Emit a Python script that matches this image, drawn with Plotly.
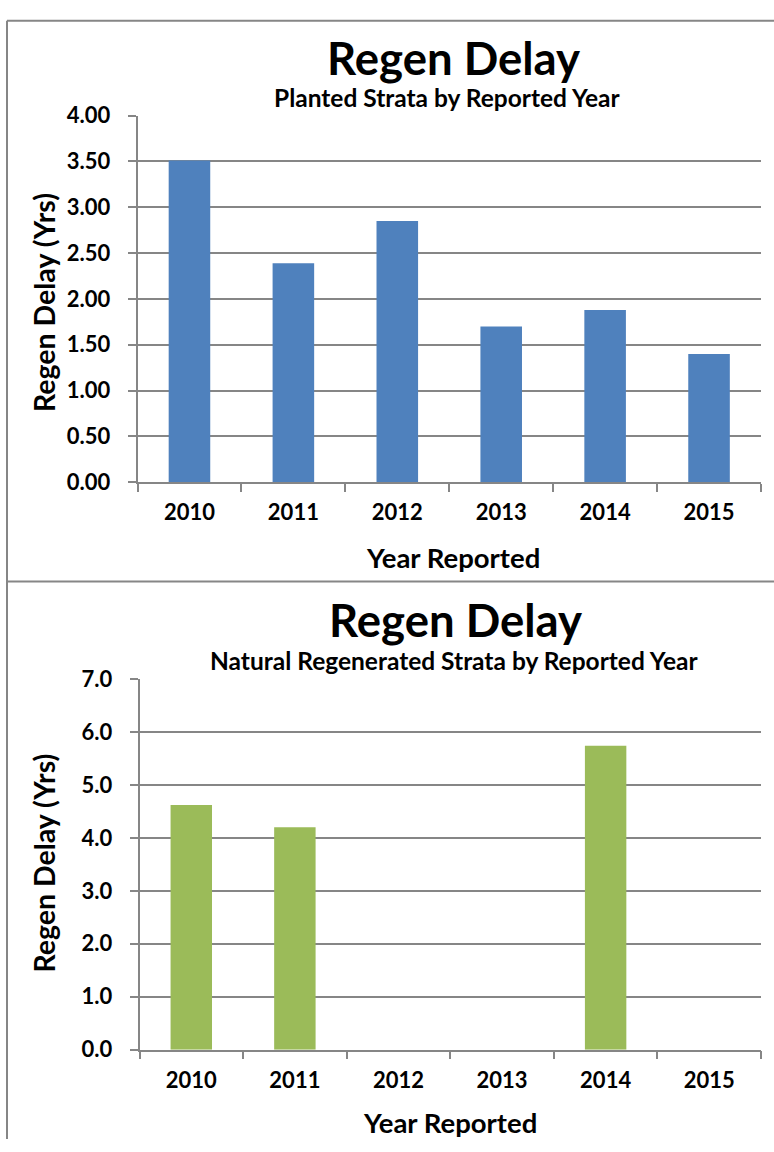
import plotly.graph_objects as go

years = ["2010", "2011", "2012", "2013", "2014", "2015"]
planted = [3.51, 2.39, 2.85, 1.70, 1.88, 1.40]
natural = [4.62, 4.20, 0, 0, 5.74, 0]

W, H = 774, 1152
GRAY = "#868686"
FONT = "Lato"


def px(x):
    return x / W


def py(y):
    return 1 - y / H


fig = go.Figure()
fig.add_trace(go.Bar(x=years, y=planted, xaxis="x", yaxis="y",
                     marker=dict(color="#4F81BD", line=dict(width=0)), width=0.4))
fig.add_trace(go.Bar(x=years, y=natural, xaxis="x2", yaxis="y2",
                     marker=dict(color="#9BBB59", line=dict(width=0)), width=0.4))

tickfont = dict(family=FONT, size=22, color="black", weight="bold")
common_x = dict(type="category", showline=True, linecolor=GRAY, linewidth=1.5,
                ticks="outside", tickson="boundaries", ticklen=8, tickcolor=GRAY,
                tickwidth=1.5, showgrid=False, tickfont=tickfont,
                categoryorder="array", categoryarray=years, fixedrange=True,
                ticklabelstandoff=10)
common_y = dict(showgrid=True, gridcolor=GRAY, gridwidth=1.5, showline=True,
                linecolor=GRAY, linewidth=1.5, ticks="outside", ticklen=8,
                tickcolor=GRAY, tickwidth=1.5, zeroline=False, tickfont=tickfont,
                fixedrange=True, ticklabelstandoff=13)

fig.update_layout(
    width=W, height=H, margin=dict(l=0, r=0, t=0, b=0),
    paper_bgcolor="white", plot_bgcolor="white", showlegend=False,
    xaxis=dict(domain=[px(137.5), px(761)], anchor="y", **common_x),
    yaxis=dict(domain=[py(479.5), py(104)], anchor="x", range=[0, 4], dtick=0.5,
               tickformat=".2f", **common_y),
    xaxis2=dict(domain=[px(139.5), px(761)], anchor="y2", **common_x),
    yaxis2=dict(domain=[py(1060.5), py(681)], anchor="x2", range=[0, 7], dtick=1,
                tickformat=".1f", **common_y),
)


def text(s, x, y, size, angle=0):
    fig.add_annotation(text=s, x=px(x), y=py(y), xref="paper", yref="paper",
                       xanchor="center", yanchor="middle", showarrow=False,
                       textangle=angle,
                       font=dict(family=FONT, size=size, color="black", weight="bold"))


# top panel texts
text("Regen Delay", 453, 45, 45.5)
text("Planted Strata by Reported Year", 447, 86, 24.5)
text("Regen Delay (Yrs)", 44, 296, 28.5, -90)
text("Year Reported", 453, 557, 27.5)
# bottom panel texts
text("Regen Delay", 455, 620, 45.5)
text("Natural Regenerated Strata by Reported Year", 454, 662, 24.5)
text("Regen Delay (Yrs)", 44, 870, 28.5, -90)
text("Year Reported", 450, 1135, 27.5)

# panel borders (left edge, top edge, separator between the two chart panels)
border = dict(color=GRAY, width=2)
fig.add_shape(type="line", xref="paper", yref="paper",
              x0=px(7), x1=px(7), y0=py(1152), y1=py(7), line=border, layer="below")
fig.add_shape(type="line", xref="paper", yref="paper",
              x0=px(7), x1=px(774), y0=py(7), y1=py(7), line=border, layer="below")
fig.add_shape(type="line", xref="paper", yref="paper",
              x0=px(7), x1=px(774), y0=py(581), y1=py(581), line=border, layer="below")

fig.write_html("out.html", config={"displayModeBar": False},
               post_script="document.body.style.margin='0px';document.body.style.overflow='hidden';")
